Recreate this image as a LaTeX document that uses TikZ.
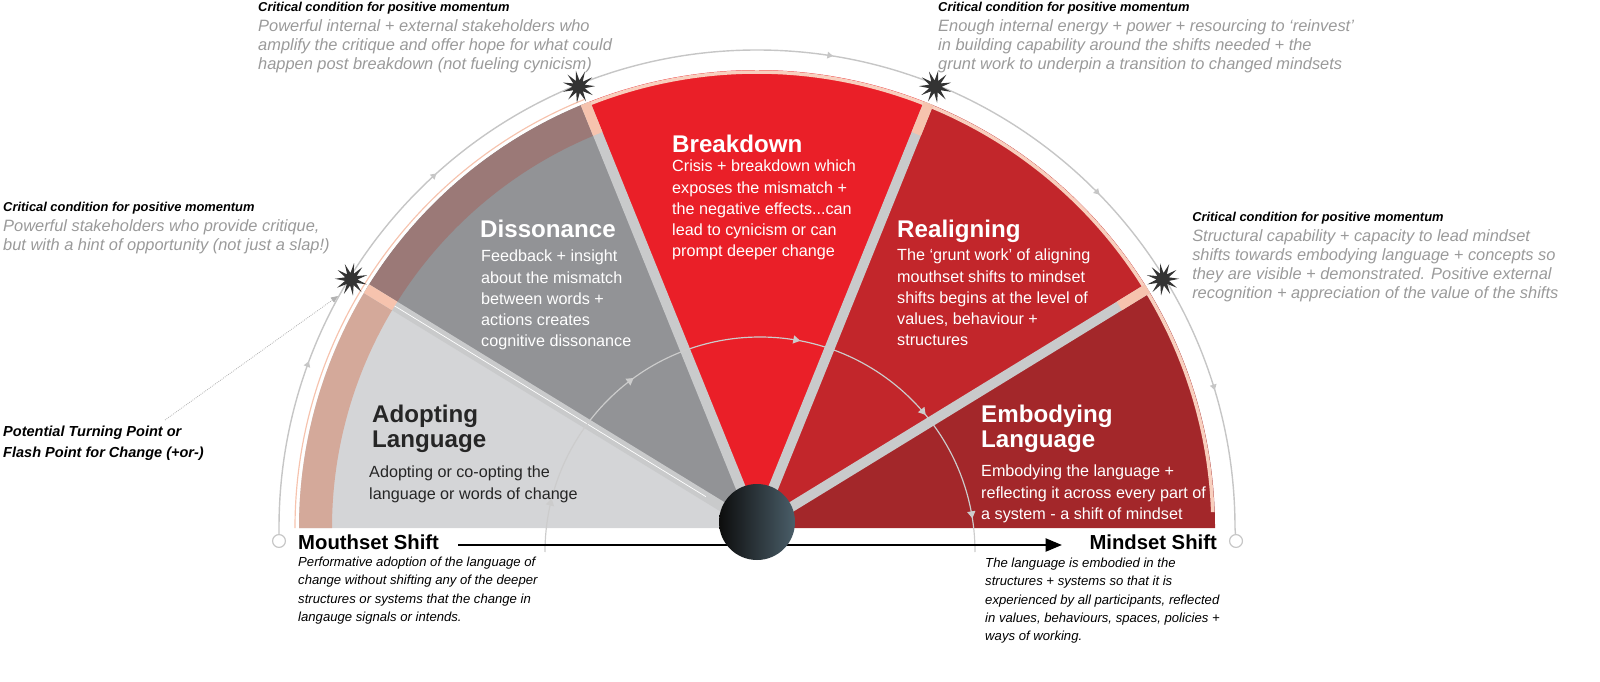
\documentclass[tikz,border=0pt]{standalone}
\usepackage{fontspec}
\setmainfont{Liberation Sans}
\usetikzlibrary{shapes.geometric,decorations.markings,arrows.meta}
\definecolor{adopt}{HTML}{D4D5D7}
\definecolor{disso}{HTML}{929396}
\definecolor{brk}{HTML}{EA1F28}
\definecolor{realn}{HTML}{C2262B}
\definecolor{embod}{HTML}{A3272A}
\definecolor{bandA}{HTML}{D4A99A}
\definecolor{bandD}{HTML}{9B7977}
\definecolor{sep}{HTML}{C9CACB}
\definecolor{salmon}{HTML}{F6C3AE}
\definecolor{gtxt}{HTML}{9A9A9A}
\definecolor{hubR}{HTML}{4A5E69}
\tikzset{
 ttl/.style={anchor=north west,inner sep=0,align=left,font=\fontsize{20.6}{21.5}\selectfont\bfseries},
 body/.style={anchor=north west,inner sep=0,align=left,font=\fontsize{13.8}{18}\selectfont},
 crit/.style={anchor=north west,inner sep=0,align=left,font=\fontsize{11}{16}\selectfont\bfseries\itshape},
 critg/.style={anchor=north west,inner sep=0,align=left,text=gtxt,font=\fontsize{14}{16.3}\selectfont\itshape},
 desc/.style={anchor=north west,inner sep=0,align=left,font=\fontsize{11.2}{15.5}\selectfont\itshape},
 spark/.style={star,star points=11,star point ratio=2.6,fill=black!80,minimum size=28,inner sep=0},
 arr/.style={postaction={decorate},decoration={markings,#1}},
}
\begin{document}
\begin{tikzpicture}[x=0.03cm,y=-0.03cm]
\useasboundingbox (0,0) rectangle (1600,682);
\coordinate (C) at (757,528);
\def\R{458}
% outer thin arc
\draw[gray!45,line width=1.2pt,arr={mark=at position 0.12 with {\arrow{Triangle[scale=0.8]}},mark=at position 0.27 with {\arrow{Triangle[scale=0.8]}},mark=at position 0.55 with {\arrow{Triangle[scale=0.8]}},mark=at position 0.75 with {\arrow{Triangle[scale=0.8]}},mark=at position 0.9 with {\arrow{Triangle[scale=0.8]}}}]
 (279,541) -- ([shift={(180:478)}]C) arc (-180:0:478) -- (1236,541);
\node[circle,draw=gray!45,fill=white,line width=1pt,minimum size=11,inner sep=0] (e1) at (279,541) {};
\node[circle,draw=gray!45,fill=white,line width=1pt,minimum size=11,inner sep=0] (e2) at (1236,541) {};
% sectors
\fill[adopt] (C) -- ++(-180:\R) arc (-180:-148.5:\R) -- cycle;
\fill[disso] (C) -- ++(-148.5:\R) arc (-148.5:-112:\R) -- cycle;
\fill[brk] (C) -- ++(-112:\R) arc (-112:-68:\R) -- cycle;
\fill[realn] (C) -- ++(-68:\R) arc (-68:-31.5:\R) -- cycle;
\fill[embod] (C) -- ++(-31.5:\R) arc (-31.5:0:\R) -- cycle;
% bands
\fill[bandA] ([shift={(-180:\R)}]C) arc (-180:-148.5:\R) -- ([shift={(-148.5:425)}]C) arc (-148.5:-180:425) -- cycle;
\fill[bandD] ([shift={(-148.5:\R)}]C) arc (-148.5:-112:\R) -- ([shift={(-112:425)}]C) arc (-112:-148.5:425) -- cycle;
\draw[salmon!80,line width=3pt] ([shift={(-112:456)}]C) arc (-112:-2:456);
\draw[salmon,line width=1pt] ([shift={(-180:462)}]C) arc (-180:-112:462);
% separators
\foreach \a in {-148.5,-112,-68,-31.5}{
 \draw[sep,line width=0.3cm] (C) -- ++(\a:\R);
 \draw[salmon,line width=0.3cm] ([shift={(\a:425)}]C) -- ([shift={(\a:\R)}]C);
}
\draw[white,line width=0.6pt] ([shift={(-148.5:60)}]C) -- ([shift={(-148.5:425)}]C);
% sparks
\node[spark,rotate=-10] (s1) at ([shift={(-148.5:476)}]C) {};
\node[spark,rotate=10] (s2) at ([shift={(-112:476)}]C) {};
\node[spark,rotate=-10] (s3) at ([shift={(-68:476)}]C) {};
\node[spark,rotate=10] (s4) at ([shift={(-31.5:476)}]C) {};
% inner arc
\draw[gray!40,line width=1pt,arr={mark=at position 0.08 with {\arrow{Triangle[scale=1.1]}},mark=at position 0.3 with {\arrow{Triangle[scale=1.1]}},mark=at position 0.56 with {\arrow{Triangle[scale=1.1]}},mark=at position 0.78 with {\arrow{Triangle[scale=1.1]}},mark=at position 0.95 with {\arrow{Triangle[scale=1.1]}}}]
 (545,552) arc (-180:0:215);
% main arrow
\coordinate (m1) at (458,545);
\coordinate (m2) at (1062,545);
\draw[line width=2.2pt,-{Triangle[length=14pt,width=11pt]}] (m1) -- (m2);
% hub
\shade[left color=black!95,right color=hubR] (757,522) circle (38);
\node[circle,minimum size=0.03cm*76,inner sep=0] (hub) at (757,522) {};
% leader
\node[crit,text=black,font=\fontsize{12.4}{18}\selectfont\bfseries\itshape] (pt) at (3,426) {Potential Turning Point or\\Flash Point for Change (+or-)};
\draw[gray!60,densely dotted,line width=0.7pt,-{Triangle[length=6pt,width=5pt]}] (165,420) -- (338,296);
% segment texts
\node[ttl,text=black!85] (t1) at (372,405) {Adopting\\Language};
\node[body,text=black!85] (b1) at (369,466) {Adopting or co-opting the\\language or words of change};
\node[ttl,text=white] (t2) at (480,220) {Dissonance};
\node[body,text=white] (b2) at (481,250) {Feedback + insight\\about the mismatch\\between words +\\actions creates\\cognitive dissonance};
\node[ttl,text=white] (t3) at (672,135) {Breakdown};
\node[body,text=white] (b3) at (672,160) {Crisis + breakdown which\\exposes the mismatch +\\the negative effects...can\\lead to cynicism or can\\prompt deeper change};
\node[ttl,text=white] (t4) at (897,220) {Realigning};
\node[body,text=white] (b4) at (897,249) {The `grunt work' of aligning\\mouthset shifts to mindset\\shifts begins at the level of\\values, behaviour +\\structures};
\node[ttl,text=white] (t5) at (981,405) {Embodying\\Language};
\node[body,text=white] (b5) at (981,465) {Embodying the language +\\reflecting it across every part of\\a system - a shift of mindset};
% critical labels
\node[crit] (c1) at (258,2) {Critical condition for positive momentum};
\node[critg] (g1) at (258,19) {Powerful internal + external stakeholders who\\amplify the critique and offer hope for what could\\happen post breakdown (not fueling cynicism)};
\node[crit] (c2) at (938,2) {Critical condition for positive momentum};
\node[critg] (g2) at (938,19) {Enough internal energy + power + resourcing to `reinvest'\\in building capability around the shifts needed + the\\grunt work to underpin a transition to changed mindsets};
\node[crit] (c3) at (3,202) {Critical condition for positive momentum};
\node[critg] (g3) at (3,219) {Powerful stakeholders who provide critique,\\but with a hint of opportunity (not just a slap!)};
\node[crit] (c4) at (1192,212) {Critical condition for positive momentum};
\node[critg] (g4) at (1192,229) {Structural capability + capacity to lead mindset\\shifts towards embodying language + concepts so\\they are visible + demonstrated. Positive external\\recognition + appreciation of the value of the shifts};
% axis labels
\node[anchor=north west,inner sep=0,font=\fontsize{17.3}{19}\selectfont\bfseries] (ms) at (298,535) {Mouthset Shift};
\node[desc] (md) at (298,557) {Performative adoption of the language of\\change without shifting any of the deeper\\structures or systems that the change in\\langauge signals or intends.};
\node[anchor=north east,inner sep=0,font=\fontsize{17.3}{19}\selectfont\bfseries] (ns) at (1217,535) {Mindset Shift};
\node[desc] (nd) at (985,558) {The language is embodied in the\\structures + systems so that it is\\experienced by all participants, reflected\\in values, behaviours, spaces, policies +\\ways of working.};
\end{tikzpicture}
\end{document}
